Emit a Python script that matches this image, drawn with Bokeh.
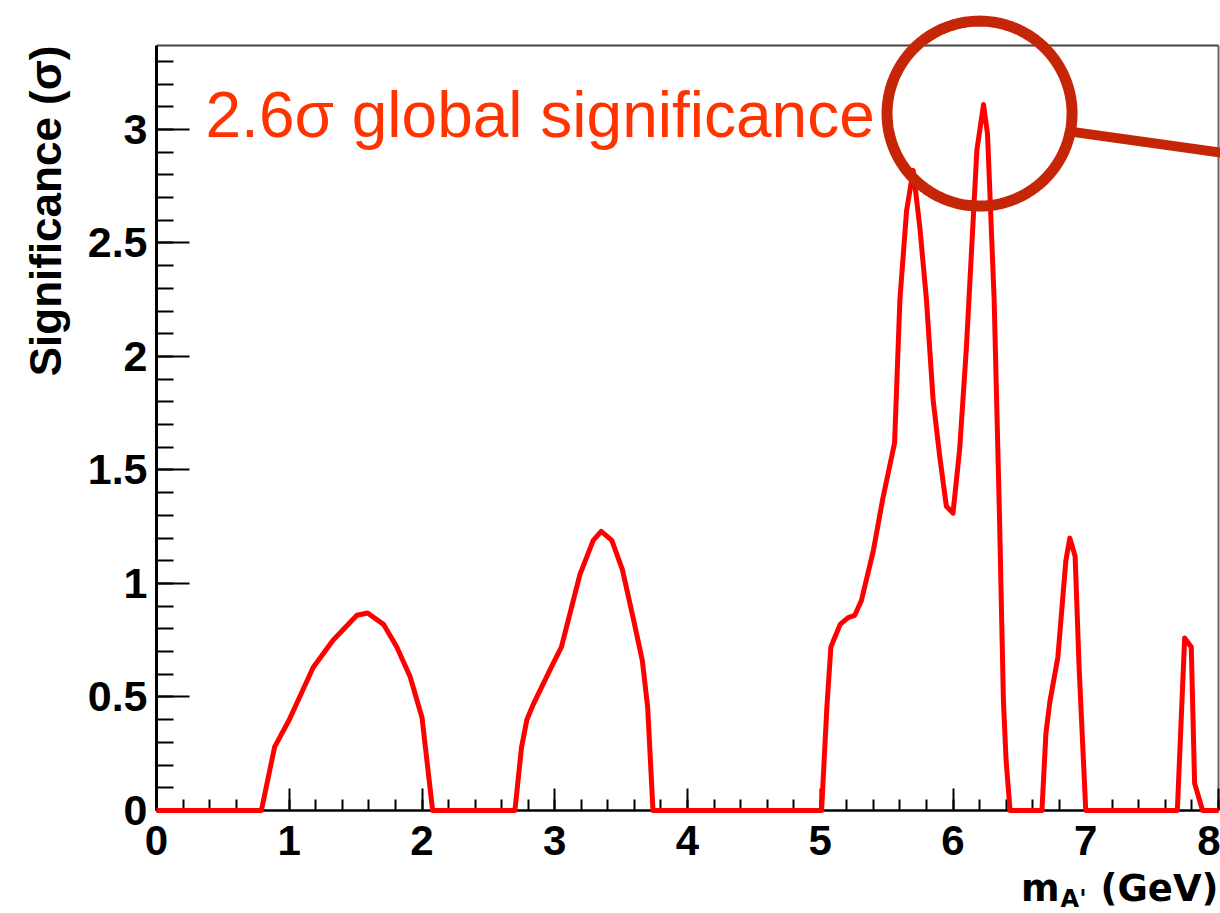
import numpy as np
from bokeh.plotting import figure
from bokeh.layouts import row, column
from bokeh.models import Range1d, FixedTicker, PolyAnnotation, Arrow
from bokeh.core.properties import value
from bokeh.embed import file_html
from bokeh.resources import INLINE

# Local significance scan versus dark-photon mass
mass_gev = [0.0, 0.79, 0.89, 1.00, 1.18, 1.33, 1.51, 1.59, 1.71, 1.81, 1.91, 2.00, 2.08,
            2.70, 2.75, 2.79, 2.84, 2.99, 3.05, 3.19, 3.29, 3.35, 3.43, 3.51, 3.59, 3.66, 3.70, 3.74,
            5.01, 5.05, 5.08, 5.15, 5.21, 5.26, 5.31, 5.40, 5.47, 5.56, 5.60, 5.65, 5.70,
            5.75, 5.80, 5.85, 5.90, 5.95, 6.00, 6.05, 6.10, 6.14, 6.18, 6.23, 6.26, 6.28,
            6.31, 6.35, 6.38, 6.40, 6.43,
            6.67, 6.70, 6.73, 6.79, 6.85, 6.88, 6.92, 6.95, 7.00,
            7.69, 7.745, 7.795, 7.82, 7.88, 8.0]
significance = [0.0, 0.0, 0.28, 0.40, 0.63, 0.75, 0.86, 0.87, 0.82, 0.72, 0.59, 0.41, 0.0,
                0.0, 0.28, 0.40, 0.47, 0.65, 0.72, 1.04, 1.19, 1.23, 1.19, 1.06, 0.85, 0.66, 0.455, 0.0,
                0.0, 0.455, 0.72, 0.82, 0.85, 0.86, 0.925, 1.145, 1.37, 1.62, 2.25, 2.64, 2.82,
                2.57, 2.25, 1.81, 1.56, 1.34, 1.31, 1.59, 2.03, 2.47, 2.91, 3.11, 2.98, 2.69,
                2.25, 1.30, 0.48, 0.22, 0.0,
                0.0, 0.34, 0.48, 0.675, 1.10, 1.20, 1.12, 0.63, 0.0,
                0.0, 0.76, 0.72, 0.12, 0.0, 0.0]

x_ticks = [0, 1, 2, 3, 4, 5, 6, 7, 8]
x_tick_labels = ["0", "1", "2", "3", "4", "5", "6", "7", "8"]
y_ticks = [0, 0.5, 1, 1.5, 2, 2.5, 3]
y_tick_labels = ["0", "0.5", "1", "1.5", "2", "2.5", "3"]

y_title = "Significance (σ)"
x_title_main = "m"
x_title_sub = "A'"
x_title_unit = "(GeV)"
callout_text = "2.6σ global significance"

X_MAX = 8.0
Y_MAX = 3.37

# highlight ring around the most significant excess
ring_center = (6.20, 3.07)
ring_radius_px = 92.5

FONT = "Liberation Sans"
XT_FONT = "DejaVu Sans"
W, H = 1220, 913
TITLE_W = 75            # strip holding the vertical axis title
MAIN_H = 875            # height of the plotting figure
XT_H = 60               # strip holding the horizontal axis title
XT_OVERLAP = MAIN_H + XT_H - H   # strip slides up under the tick-label area
AXIS_X_PX = 156         # left frame edge in the page
AXIS_END_PX = 1218      # x = X_MAX in the page
AXIS_TOP_PX = 45        # y = Y_MAX in the page
AXIS_BOTTOM_PX = 810    # y = 0 in the page
BASELINE_SHIFT = 0.3465  # text anchor sits this many em above the drawn baseline

px_per_x = (AXIS_END_PX - AXIS_X_PX) / X_MAX
px_per_y = (AXIS_BOTTOM_PX - AXIS_TOP_PX) / Y_MAX

main_w = W - TITLE_W

p = figure(width=main_w, height=MAIN_H,
           x_range=Range1d(0, (W - AXIS_X_PX) / px_per_x),
           y_range=Range1d(0, AXIS_BOTTOM_PX / px_per_y),
           output_backend="svg", toolbar_location=None,
           min_border_left=AXIS_X_PX - TITLE_W, min_border_right=0,
           min_border_top=0, min_border_bottom=MAIN_H - AXIS_BOTTOM_PX)
p.grid.visible = False
p.outline_line_color = None
p.background_fill_color = "white"
p.border_fill_color = "white"

xa = p.xaxis[0]
xa.bounds = (0, X_MAX)
xa.ticker = FixedTicker(ticks=x_ticks,
                        minor_ticks=[round(v, 2) for v in np.arange(0, X_MAX + 1e-6, 0.2)])
xa.major_label_overrides = {t: s for t, s in zip(x_ticks, x_tick_labels)}
xa.major_tick_in = 22
xa.major_tick_out = 0
xa.minor_tick_in = 11
xa.minor_tick_out = 0
xa.axis_line_width = 2.5
xa.major_tick_line_width = 2
xa.minor_tick_line_width = 2
xa.major_label_text_font = FONT
xa.major_label_text_font_style = "bold"
xa.major_label_text_font_size = "42px"
xa.major_label_text_color = "black"
xa.major_label_standoff = 15
xa.axis_label = None

ya = p.yaxis[0]
ya.bounds = (0, Y_MAX)
ya.ticker = FixedTicker(ticks=y_ticks,
                        minor_ticks=[round(v, 2) for v in np.arange(0, Y_MAX, 0.1)])
ya.major_label_overrides = {t: s for t, s in zip(y_ticks, y_tick_labels)}
ya.major_tick_in = 33
ya.major_tick_out = 0
ya.minor_tick_in = 17
ya.minor_tick_out = 0
ya.axis_line_width = 3
ya.major_tick_line_width = 2
ya.minor_tick_line_width = 2
ya.major_label_text_font = FONT
ya.major_label_text_font_style = "bold"
ya.major_label_text_font_size = "43px"
ya.major_label_text_color = "black"
ya.major_label_standoff = 9
ya.axis_label = None

# frame border: top and right edges
p.line([0, X_MAX], [Y_MAX, Y_MAX], line_color="#444444", line_width=2)
p.line([X_MAX, X_MAX], [0, Y_MAX], line_color="#666666", line_width=2)

# significance curve
p.line(mass_gev, significance, line_color="#ff0000", line_width=5,
       line_join="round", level="overlay")

# call-out text (baseline 137 px from the top of the page)
callout_size = 64
p.text(x=[(205 - AXIS_X_PX) / px_per_x],
       y=[(AXIS_BOTTOM_PX - 137 + BASELINE_SHIFT * callout_size) / px_per_y],
       text=[callout_text], text_align="left", text_baseline="alphabetic",
       text_font=value(FONT), text_font_size=f"{callout_size}px", text_color="#ff3300")

# ring and leader line
ring_col = "#c62608"
t = np.linspace(0, 2 * np.pi, 241)
ring_xs = ring_center[0] + ring_radius_px / px_per_x * np.cos(t)
ring_ys = ring_center[1] + ring_radius_px / px_per_y * np.sin(t)
p.add_layout(PolyAnnotation(xs=list(ring_xs), ys=list(ring_ys), fill_alpha=0,
                            line_color=ring_col, line_alpha=1.0, line_width=11,
                            level="overlay"))

lead_angle = np.arctan2(-19, 97)
x0 = ring_center[0] + (ring_radius_px + 4) / px_per_x * np.cos(lead_angle)
y0 = ring_center[1] + (ring_radius_px + 4) / px_per_y * np.sin(lead_angle)
x1 = (W - AXIS_X_PX + 4) / px_per_x
y1 = y0 - (x1 - x0) * px_per_x * (20 / 143) / px_per_y
p.add_layout(Arrow(x_start=x0, y_start=y0, x_end=x1, y_end=y1, end=None,
                   line_color=ring_col, line_width=10, level="overlay"))


def title_strip(width, height, x_lo, x_hi, y_top, y_bottom, left=0, bottom=0, **kw):
    """Axis-free figure whose frame maps page pixels [x_lo, x_hi] x [y_top, y_bottom]."""
    s = figure(width=width, height=height, x_range=Range1d(x_lo, x_hi),
               y_range=Range1d(y_bottom, y_top), output_backend="svg",
               toolbar_location=None, x_axis_type=None, y_axis_type=None,
               min_border_left=left, min_border_right=0,
               min_border_top=0, min_border_bottom=bottom, **kw)
    s.grid.visible = False
    s.outline_line_color = None
    s.background_fill_color = None
    s.border_fill_color = None
    return s


# vertical axis title, aligned to the top end of the axis; frame matches the plot frame
yt_size = 44
yt = title_strip(TITLE_W, H, 0, TITLE_W, 0, AXIS_BOTTOM_PX, bottom=H - AXIS_BOTTOM_PX)
yt.text(x=[60 - BASELINE_SHIFT * yt_size], y=[AXIS_TOP_PX], text=[y_title], angle=np.pi / 2,
        text_align="right", text_baseline="alphabetic",
        text_font=value(FONT), text_font_style="bold", text_font_size=f"{yt_size}px",
        text_color="black")

# horizontal axis title, laid out right to left from the end of the axis
xt_size, sub_size = 37, 24
xt_top = H - XT_H
xt = title_strip(main_w, XT_H, AXIS_X_PX, W, xt_top, H, left=AXIS_X_PX - TITLE_W,
                 margin=(-XT_OVERLAP, 0, 0, 0))
xt.text(x=[AXIS_END_PX], y=[901 - BASELINE_SHIFT * xt_size], text=[x_title_unit],
        text_align="right", text_baseline="alphabetic", text_font=value(XT_FONT),
        text_font_style="bold", text_font_size=f"{xt_size}px", text_color="black")
xt.text(x=[1086], y=[907 - BASELINE_SHIFT * sub_size], text=[x_title_sub],
        text_align="right", text_baseline="alphabetic", text_font=value(XT_FONT),
        text_font_style="bold", text_font_size=f"{sub_size}px", text_color="black")
xt.text(x=[1059], y=[901 - BASELINE_SHIFT * xt_size], text=[x_title_main],
        text_align="right", text_baseline="alphabetic", text_font=value(XT_FONT),
        text_font_style="bold", text_font_size=f"{xt_size}px", text_color="black")

layout = row(yt, column(p, xt, spacing=0), spacing=0)

open("out.html", "w").write(file_html(layout, INLINE))
